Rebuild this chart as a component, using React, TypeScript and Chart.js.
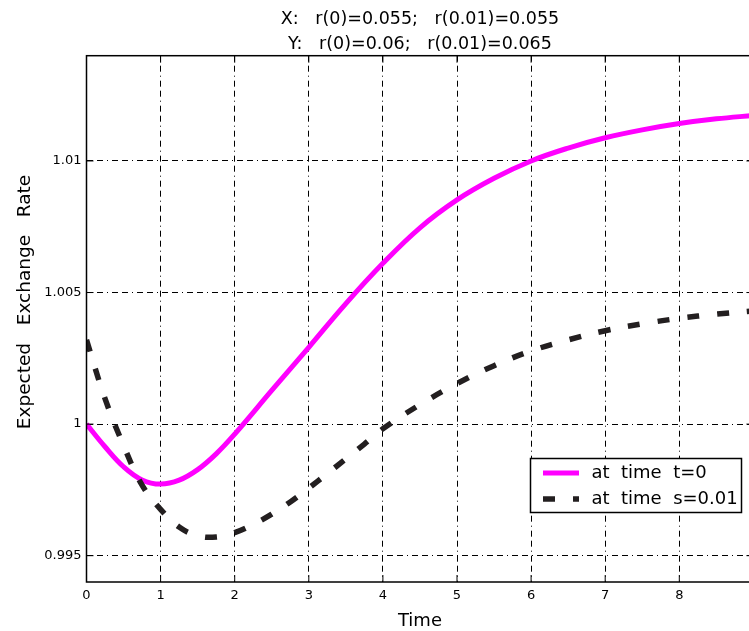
import React, { useEffect, useRef } from "react";
import { Chart, registerables } from "chart.js";

Chart.register(...registerables);

// ---- data ----
const titleLines = ["X:   r(0)=0.055;   r(0.01)=0.055", "Y:   r(0)=0.06;   r(0.01)=0.065"];
const xAxisTitle = "Time";
const yAxisTitle = "Expected   Exchange   Rate";
const seriesLabels = ["at  time  t=0", "at  time  s=0.01"];

const xTicks = [0, 1, 2, 3, 4, 5, 6, 7, 8];
const yTicks = [0.995, 1, 1.005, 1.01];

const tX = [0, 0.25, 0.5, 0.75, 1, 1.25, 1.5, 1.75, 2, 2.5, 3, 3.5, 4, 4.5, 5, 5.5, 6, 6.5, 7, 7.5, 8, 8.5, 9];
const tY = [1.0, 0.99914, 0.99838, 0.99788, 0.99772, 0.99787, 0.99827, 0.99887, 0.99962, 1.00128, 1.00292, 1.00458, 1.00611, 1.00746, 1.00852, 1.00934, 1.01, 1.01049, 1.01088, 1.01118, 1.01142, 1.0116, 1.01173];

const sX = [0, 0.25, 0.5, 0.75, 1, 1.25, 1.5, 1.75, 2, 2.25, 2.5, 2.75, 3, 3.25, 3.5, 3.75, 4, 4.5, 5, 5.5, 6, 6.5, 7, 7.5, 8, 8.5, 9];
const sY = [1.0032, 1.00097, 0.99919, 0.99768, 0.99676, 0.99609, 0.99576, 0.99571, 0.99588, 0.99619, 0.99658, 0.99704, 0.99757, 0.99812, 0.99868, 0.99924, 0.99982, 1.00074, 1.00154, 1.00222, 1.00278, 1.0032, 1.00355, 1.00381, 1.00402, 1.00418, 1.0043];

const X_MIN = 0;
const X_MAX = 9;
const Y_MIN = 0.994;
const Y_MAX = 1.014;

const MAGENTA = "#ff00ff";
const DARK = "#231f20";
const DASH = [12, 18];
const GRID_DASH = [6, 4, 6, 4, 1, 4];
const FONT = "'DejaVu Sans', sans-serif";

const overlayPlugin = {
  id: "overlay",
  afterDraw(chart: any) {
    const ctx = chart.ctx;
    const a = chart.chartArea;
    const xs = chart.scales.x;
    const ys = chart.scales.y;
    ctx.save();
    // frame
    ctx.strokeStyle = "#000";
    ctx.lineWidth = 1.5;
    ctx.setLineDash([]);
    ctx.strokeRect(a.left, a.top, a.right - a.left, a.bottom - a.top);
    // inward ticks
    ctx.lineWidth = 1;
    const tl = 7;
    xTicks.forEach((v) => {
      const px = xs.getPixelForValue(v);
      ctx.beginPath();
      ctx.moveTo(px, a.top);
      ctx.lineTo(px, a.top + tl);
      ctx.moveTo(px, a.bottom);
      ctx.lineTo(px, a.bottom - tl);
      ctx.stroke();
    });
    yTicks.forEach((v) => {
      const py = ys.getPixelForValue(v);
      ctx.beginPath();
      ctx.moveTo(a.left, py);
      ctx.lineTo(a.left + tl, py);
      ctx.moveTo(a.right, py);
      ctx.lineTo(a.right - tl, py);
      ctx.stroke();
    });
    // title
    const cx = (a.left + a.right) / 2;
    ctx.fillStyle = "#000";
    ctx.textAlign = "center";
    ctx.textBaseline = "middle";
    ctx.font = `17.5px ${FONT}`;
    ctx.fillText(titleLines[0], cx, 19);
    ctx.fillText(titleLines[1], cx, 44);
    // x axis title
    ctx.font = `18px ${FONT}`;
    ctx.fillText(xAxisTitle, cx, 621);
    // y axis title
    ctx.save();
    ctx.translate(25, 302);
    ctx.rotate(-Math.PI / 2);
    ctx.font = `18.5px ${FONT}`;
    ctx.fillText(yAxisTitle, 0, 0);
    ctx.restore();
    // legend
    const lx = 530.5, ly = 458.5, lw = 211, lh = 54;
    ctx.fillStyle = "#fff";
    ctx.fillRect(lx, ly, lw, lh);
    ctx.strokeStyle = "#000";
    ctx.lineWidth = 1.5;
    ctx.strokeRect(lx, ly, lw, lh);
    const rows = [473, 499];
    ctx.lineCap = "butt";
    ctx.lineWidth = 5;
    ctx.strokeStyle = MAGENTA;
    ctx.beginPath();
    ctx.moveTo(543, rows[0]);
    ctx.lineTo(579, rows[0]);
    ctx.stroke();
    ctx.strokeStyle = DARK;
    ctx.lineWidth = 5.5;
    ctx.setLineDash(DASH);
    ctx.beginPath();
    ctx.moveTo(543, rows[1]);
    ctx.lineTo(579, rows[1]);
    ctx.stroke();
    ctx.setLineDash([]);
    ctx.fillStyle = "#000";
    ctx.textAlign = "left";
    ctx.font = `18px ${FONT}`;
    ctx.fillText(seriesLabels[0], 591.5, rows[0]);
    ctx.fillText(seriesLabels[1], 591.5, rows[1]);
    ctx.restore();
  },
};

function fmt(v: number): string {
  return String(Math.round(v * 10000) / 10000);
}

export default function App() {
  const ref = useRef<HTMLCanvasElement | null>(null);
  useEffect(() => {
    document.body.style.margin = "0";
    const canvas = ref.current!;
    const chart = new Chart(canvas, {
      type: "line",
      data: {
        datasets: [
          {
            label: seriesLabels[1],
            data: sX.map((x, i) => ({ x, y: sY[i] })),
            borderColor: DARK,
            borderWidth: 5.5,
            borderDash: DASH,
            borderCapStyle: "butt",
            pointRadius: 0,
            tension: 0.4,
            fill: false,
            order: 0,
          },
          {
            label: seriesLabels[0],
            data: tX.map((x, i) => ({ x, y: tY[i] })),
            borderColor: MAGENTA,
            borderWidth: 5,
            pointRadius: 0,
            tension: 0.4,
            fill: false,
            order: 1,
          },
        ],
      },
      options: {
        animation: false,
        responsive: false,
        devicePixelRatio: 1,
        layout: { padding: { top: 55.7, right: 1.6, left: 0, bottom: 0 } },
        plugins: { legend: { display: false }, title: { display: false }, tooltip: { enabled: false } },
        scales: {
          x: {
            type: "linear",
            min: X_MIN,
            max: X_MAX,
            afterBuildTicks: (s: any) => {
              s.ticks = xTicks.map((v) => ({ value: v }));
            },
            afterFit: (s: any) => {
              s.height = 49;
            },
            ticks: {
              autoSkip: false,
              maxRotation: 0,
              padding: 6,
              color: "#000",
              font: { family: FONT, size: 13 },
              callback: (v: any) => fmt(Number(v)),
            },
            grid: { color: "#000", lineWidth: 1, drawTicks: false },
            border: { display: false, dash: GRID_DASH },
          },
          y: {
            type: "linear",
            min: Y_MIN,
            max: Y_MAX,
            afterBuildTicks: (s: any) => {
              s.ticks = yTicks.map((v) => ({ value: v }));
            },
            afterFit: (s: any) => {
              s.width = 86.5;
            },
            ticks: {
              autoSkip: false,
              padding: 5,
              color: "#000",
              font: { family: FONT, size: 13 },
              callback: (v: any) => fmt(Number(v)),
            },
            grid: { color: "#000", lineWidth: 1, drawTicks: false },
            border: { display: false, dash: GRID_DASH },
          },
        },
      },
      plugins: [overlayPlugin],
    } as any);
    return () => chart.destroy();
  }, []);
  return (
    <div style={{ width: 749, height: 631, overflow: "hidden", background: "#fff" }}>
      <canvas ref={ref} width={755} height={631} style={{ display: "block", width: 755, height: 631 }} />
    </div>
  );
}
